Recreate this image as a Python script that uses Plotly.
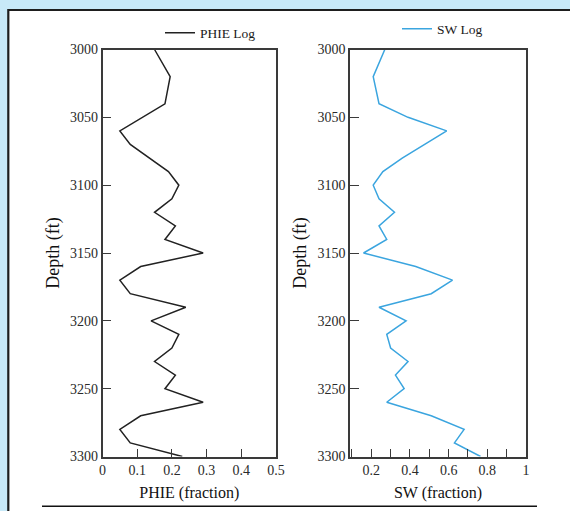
import plotly.graph_objects as go

# ---- data ----
depth_phie = [3000, 3020, 3040, 3060, 3070, 3090, 3100, 3110, 3120, 3130, 3140, 3150,
              3160, 3170, 3180, 3190, 3200, 3210, 3220, 3230, 3240, 3250, 3260, 3270,
              3280, 3290, 3300]
phie = [0.15, 0.195, 0.18, 0.05, 0.08, 0.19, 0.22, 0.20, 0.15, 0.21, 0.18, 0.29,
        0.11, 0.05, 0.08, 0.24, 0.14, 0.22, 0.20, 0.15, 0.21, 0.18, 0.29, 0.11,
        0.05, 0.08, 0.23]

depth_sw = [3000, 3020, 3040, 3050, 3060, 3080, 3090, 3100, 3110, 3120, 3130, 3140,
            3150, 3160, 3170, 3180, 3190, 3200, 3210, 3220, 3230, 3240, 3250, 3260,
            3270, 3280, 3290, 3300]
sw = [0.27, 0.21, 0.24, 0.39, 0.59, 0.36, 0.26, 0.21, 0.24, 0.32, 0.24, 0.28,
      0.16, 0.43, 0.62, 0.51, 0.24, 0.38, 0.28, 0.30, 0.39, 0.325, 0.37, 0.28,
      0.51, 0.68, 0.63, 0.765]

depth_ticks = [3000, 3050, 3100, 3150, 3200, 3250, 3300]
phie_ticks = [0, 0.1, 0.2, 0.3, 0.4, 0.5]
sw_ticks = [0.2, 0.4, 0.6, 0.8, 1]

W, H = 570, 511
FONT = "Liberation Serif"
AX = "#3a3a3a"
TXT = "#2a2a2a"


def px(x):
    return x / W


def py(y):
    return 1 - y / H


fig = go.Figure()
fig.add_trace(go.Scatter(x=phie, y=depth_phie, mode="lines", name="PHIE Log",
                         line=dict(color="#222222", width=1.5),
                         xaxis="x", yaxis="y", legend="legend"))
fig.add_trace(go.Scatter(x=sw, y=depth_sw, mode="lines", name="SW Log",
                         line=dict(color="#3ba5df", width=1.5),
                         xaxis="x2", yaxis="y2", legend="legend2"))

ydom = [py(456.5), py(49.5)]
common_y = dict(range=[3300, 3000], tickvals=depth_ticks, ticks="inside", ticklen=9,
                tickcolor=AX, tickwidth=1.3, showline=True, linecolor=AX, linewidth=1.5,
                mirror=True, showgrid=False, zeroline=False, automargin=False,
                tickfont=dict(family=FONT, size=14, color=TXT),
                title=dict(text="Depth (ft)", font=dict(family=FONT, size=18, color="#111"),
                           standoff=6),
                domain=ydom)
common_x = dict(ticks="inside", ticklen=8, tickcolor=AX, tickwidth=1.3, showline=True,
                linecolor=AX, linewidth=1.5, mirror=True, showgrid=False, zeroline=False,
                automargin=False,
                tickfont=dict(family=FONT, size=14, color=TXT))

fig.update_layout(
    width=W, height=H,
    margin=dict(l=0, r=0, t=0, b=0, autoexpand=False),
    paper_bgcolor="#c8e9f8",
    plot_bgcolor="white",
    xaxis=dict(common_x, domain=[px(102.5), px(276)], range=[0, 0.5], tickvals=phie_ticks,
               ticktext=["0", "0.1", "0.2", "0.3", "0.4", "0.5"], anchor="y",
               title=dict(text="PHIE (fraction)", font=dict(family=FONT, size=16, color="#111"),
                          standoff=10)),
    yaxis=dict(common_y, anchor="x"),
    xaxis2=dict(common_x, domain=[px(350), px(526)], range=[0.09, 1], tickvals=sw_ticks,
                ticktext=["0.2", "0.4", "0.6", "0.8", "1"], anchor="y2",
                minor=dict(dtick=0.1, tick0=0, ticks="inside", ticklen=8, tickcolor=AX,
                           tickwidth=1.3),
                title=dict(text="SW (fraction)", font=dict(family=FONT, size=16, color="#111"),
                           standoff=10)),
    yaxis2=dict(common_y, anchor="x2"),
    legend=dict(x=px(160), y=py(33), xanchor="left", yanchor="middle",
                bgcolor="rgba(0,0,0,0)", font=dict(family=FONT, size=13.5, color="#1a1a1a")),
    legend2=dict(x=px(397), y=py(29), xanchor="left", yanchor="middle",
                 bgcolor="rgba(0,0,0,0)", font=dict(family=FONT, size=13.5, color="#1a1a1a")),
    showlegend=True,
    shapes=[
        dict(type="rect", xref="paper", yref="paper", x0=px(8.3), x1=px(590),
             y0=py(540), y1=py(10), fillcolor="white", line=dict(color="#1e1e1e", width=2.2),
             layer="below"),
        dict(type="line", xref="paper", yref="paper", x0=px(42), x1=px(537),
             y0=py(506.3), y1=py(506.3), line=dict(color="#111", width=1.4)),
    ],
)

fig.write_html("out.html")
